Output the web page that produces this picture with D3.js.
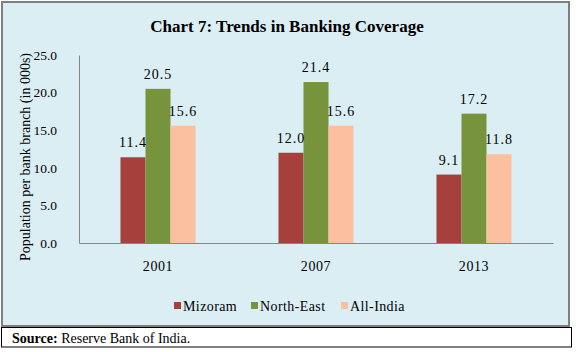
<!DOCTYPE html>
<html>
<head>
<meta charset="utf-8">
<script src="https://cdn.jsdelivr.net/npm/d3@7"></script>
<style>
  body { margin: 0; background: #fff; }
  svg text { font-family: "Liberation Serif", "Times New Roman", serif !important; fill: #000; }
</style>
</head>
<body>
<div id="chart"></div>
<script>
// data
const years = ["2001", "2007", "2013"];
const seriesNames = ["Mizoram", "North-East", "All-India"];
const mizoram = [11.4, 12.0, 9.1];
const northEast = [20.5, 21.4, 17.2];
const allIndia = [15.6, 15.6, 11.8];
const yTicks = [0, 5, 10, 15, 20, 25];
const colors = ["#A5403C", "#77933C", "#FAC0A0"];

const W = 576, H = 352;
const margin = {top: 55, right: 23, bottom: 109, left: 79},
    width = W - margin.left - margin.right,
    height = H - margin.top - margin.bottom;

const svg = d3.select("#chart")
  .append("svg")
    .attr("width", W)
    .attr("height", H)
    .attr("font-family", "Liberation Serif, serif");

// panel + source box
svg.append("rect")
  .attr("x", 2).attr("y", 2).attr("width", 567).attr("height", 324)
  .attr("fill", "#DBEEF4")
  .attr("stroke", "#7F7F7F")
  .attr("stroke-width", 2);

svg.append("rect")
  .attr("x", 1.5).attr("y", 327.5).attr("width", 570).attr("height", 19.5)
  .attr("fill", "#fff")
  .attr("stroke", "#000")
  .attr("stroke-width", 1);

const src = svg.append("text")
  .attr("x", 12).attr("y", 343)
  .style("font-size", "14px");
src.append("tspan").style("font-weight", "bold").text("Source:");
src.append("tspan").text(" Reserve Bank of India.");

// title
svg.append("text")
  .attr("x", 287).attr("y", 32)
  .attr("text-anchor", "middle")
  .style("font-size", "17px")
  .style("font-weight", "bold")
  .text("Chart 7: Trends in Banking Coverage");

const g = svg.append("g")
  .attr("transform", `translate(${margin.left},${margin.top})`);

const x = d3.scaleBand()
  .domain(years)
  .range([0, width])
  .paddingInner(0.525)
  .paddingOuter(0.2625);

const xs = d3.scaleBand()
  .domain(seriesNames)
  .range([0, x.bandwidth()]);

const y = d3.scaleLinear()
  .domain([0, 25])
  .range([height, 0]);

const color = d3.scaleOrdinal().domain(seriesNames).range(colors);

// y axis
const yAxis = g.append("g")
  .call(d3.axisLeft(y).tickValues(yTicks).tickFormat(d3.format(".1f")).tickSize(0).tickPadding(22));
yAxis.select(".domain").attr("stroke", "#868686");
yAxis.selectAll("text").style("font-size", "13.5px");

// bars
const rows = years.map((yr, i) => ({
  year: yr,
  values: [mizoram[i], northEast[i], allIndia[i]].map((v, j) => ({name: seriesNames[j], value: v}))
}));

const grp = g.selectAll(".grp")
  .data(rows)
  .join("g")
    .attr("class", "grp")
    .attr("transform", d => `translate(${x(d.year)},0)`);

grp.selectAll("rect")
  .data(d => d.values)
  .join("rect")
    .attr("x", d => xs(d.name))
    .attr("y", d => y(d.value))
    .attr("width", xs.bandwidth())
    .attr("height", d => height - y(d.value))
    .attr("fill", d => color(d.name));

grp.selectAll("text")
  .data(d => d.values)
  .join("text")
    .attr("x", d => xs(d.name) + xs.bandwidth() / 2)
    .attr("y", d => y(d.value) - 10)
    .attr("text-anchor", "middle")
    .style("font-size", "14px")
    .style("letter-spacing", "1px")
    .text(d => d.value.toFixed(1));

// x axis
const xAxis = g.append("g")
  .attr("transform", `translate(0,${height})`)
  .call(d3.axisBottom(x).tickSize(0).tickPadding(18));
xAxis.select(".domain").attr("stroke", "#868686");
xAxis.selectAll("text").style("font-size", "14px").style("letter-spacing", "0.6px");

// y axis title
svg.append("text")
  .attr("transform", `translate(30,157) rotate(-90)`)
  .attr("text-anchor", "middle")
  .style("font-size", "14px")
  .text("Population per bank branch  (in 000s)");

// legend
const legendX = [174, 251, 341];
const leg = svg.append("g").selectAll("g")
  .data(seriesNames)
  .join("g")
    .attr("transform", (d, i) => `translate(${legendX[i]},306)`);
leg.append("rect")
  .attr("x", 0).attr("y", -4)
  .attr("width", 7).attr("height", 7)
  .attr("fill", d => color(d));
leg.append("text")
  .attr("x", 9).attr("y", 4.5)
  .style("font-size", "14px")
  .style("letter-spacing", "0.4px")
  .text(d => d);
</script>
</body>
</html>
